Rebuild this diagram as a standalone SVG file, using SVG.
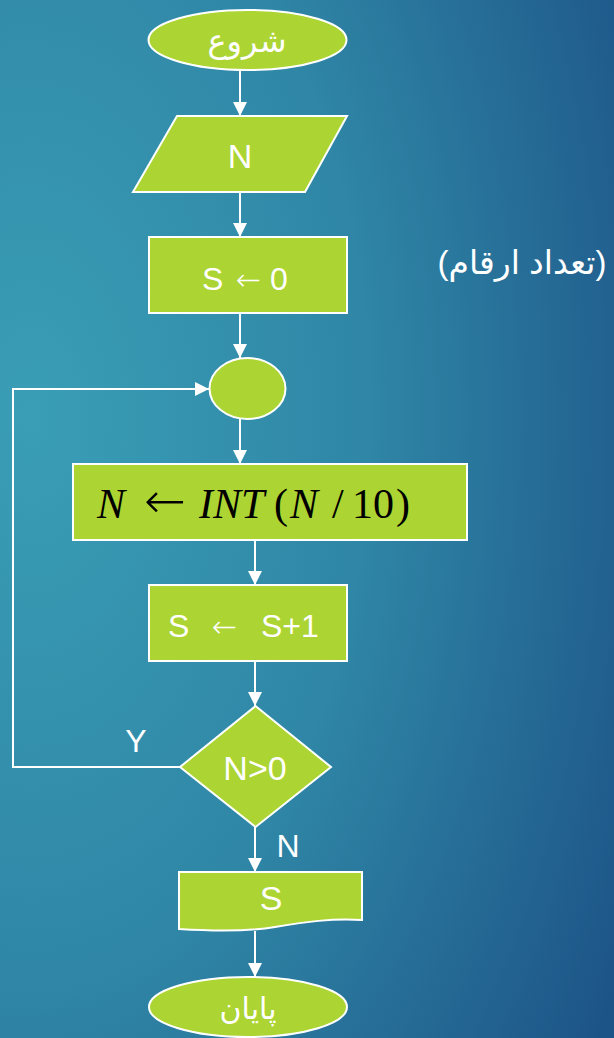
<svg xmlns="http://www.w3.org/2000/svg" width="614" height="1038" viewBox="0 0 614 1038">
<defs>
<radialGradient id="bg" cx="0.05" cy="0.4" r="1.1" gradientUnits="objectBoundingBox">
<stop offset="0" stop-color="#3a9eb6"/>
<stop offset="0.5" stop-color="#2f86a6"/>
<stop offset="1" stop-color="#1d5488"/>
</radialGradient>
<marker id="ah" markerWidth="14" markerHeight="15" refX="14" refY="7" orient="auto" markerUnits="userSpaceOnUse">
<path d="M0,0 L14,7 L0,14 Z" fill="#ffffff"/>
</marker>
<style>
.shape{fill:#acd432;stroke:#ffffff;stroke-width:2}
.lbl{font-family:"Liberation Sans","DejaVu Sans",Arial,sans-serif;fill:#ffffff;text-anchor:middle}
.lbls{font-family:"Liberation Sans","DejaVu Sans",Arial,sans-serif;fill:#ffffff;text-anchor:start}
.ar{font-family:"Liberation Sans","DejaVu Sans",sans-serif;fill:#ffffff;text-anchor:middle}
.arrow{font-family:"DejaVu Sans",sans-serif;font-weight:200}
.math{font-family:"Liberation Serif","Times New Roman",serif;fill:#000000;font-size:42px}
.conn{fill:none;stroke:#ffffff;stroke-width:2;marker-end:url(#ah)}
</style>
</defs>
<rect width="614" height="1038" fill="url(#bg)"/>

<g id="connectors">
<line class="conn" x1="240" y1="70" x2="240" y2="116"/>
<line class="conn" x1="240" y1="192" x2="240" y2="237"/>
<line class="conn" x1="240" y1="313" x2="240" y2="358"/>
<line class="conn" x1="240" y1="419" x2="240" y2="464"/>
<line class="conn" x1="255" y1="540" x2="255" y2="585"/>
<line class="conn" x1="255" y1="661" x2="255" y2="706"/>
<line class="conn" x1="255" y1="827" x2="255" y2="872"/>
<line class="conn" x1="255" y1="931" x2="255" y2="977"/>
<polyline class="conn" points="180,767 13,767 13,389 209,389"/>
<text class="lbl" x="136" y="752" font-size="32">Y</text>
<text class="lbl" x="288" y="857" font-size="32">N</text>
</g>

<g id="start">
<ellipse class="shape" cx="247.5" cy="40" rx="99" ry="30"/>
<text class="ar" x="247" y="52" font-size="32">شروع</text>
</g>

<g id="input">
<polygon class="shape" points="177,116 347,116 305,192 133,192"/>
<text class="lbl" x="240" y="168" font-size="34">N</text>
</g>

<g id="init">
<rect class="shape" x="149" y="237" width="198" height="76"/>
<text class="lbls" font-size="32" y="290"><tspan x="202">S</tspan><tspan x="236" class="arrow" font-size="30">←</tspan><tspan x="270">0</tspan></text>
</g>

<g id="note">
<text class="ar" x="522" y="274" font-size="33">(تعداد ارقام)</text>
</g>

<g id="junction">
<ellipse class="shape" cx="247.5" cy="388.5" rx="38" ry="30.5"/>
</g>

<g id="divide">
<rect class="shape" x="73" y="464" width="394" height="76"/>
<text class="math" y="518"><tspan x="97" font-style="italic">N</tspan><tspan x="144" class="arrow" font-size="50">←</tspan><tspan x="199" font-style="italic">INT</tspan><tspan x="274">(</tspan><tspan x="290" font-style="italic">N</tspan><tspan x="332">/</tspan><tspan x="352">10</tspan><tspan x="396">)</tspan></text>
</g>

<g id="increment">
<rect class="shape" x="149" y="585" width="198" height="76"/>
<text class="lbls" font-size="32" y="637"><tspan x="168">S</tspan><tspan x="212" class="arrow" font-size="30">←</tspan><tspan x="261">S+1</tspan></text>
</g>

<g id="decision">
<polygon class="shape" points="255.5,706 331,767 255.5,827 180,767"/>
<text class="lbl" x="255" y="780" font-size="34">N&gt;0</text>
</g>

<g id="output">
<path class="shape" d="M179,872 H362 V920 C332,918 305,922 275,927 C245,932 212,931 179,929 Z"/>
<text class="lbl" x="271" y="910" font-size="34">S</text>
</g>

<g id="end">
<ellipse class="shape" cx="248" cy="1007" rx="99" ry="30"/>
<text class="ar" x="248" y="1019" font-size="30">پایان</text>
</g>
</svg>
